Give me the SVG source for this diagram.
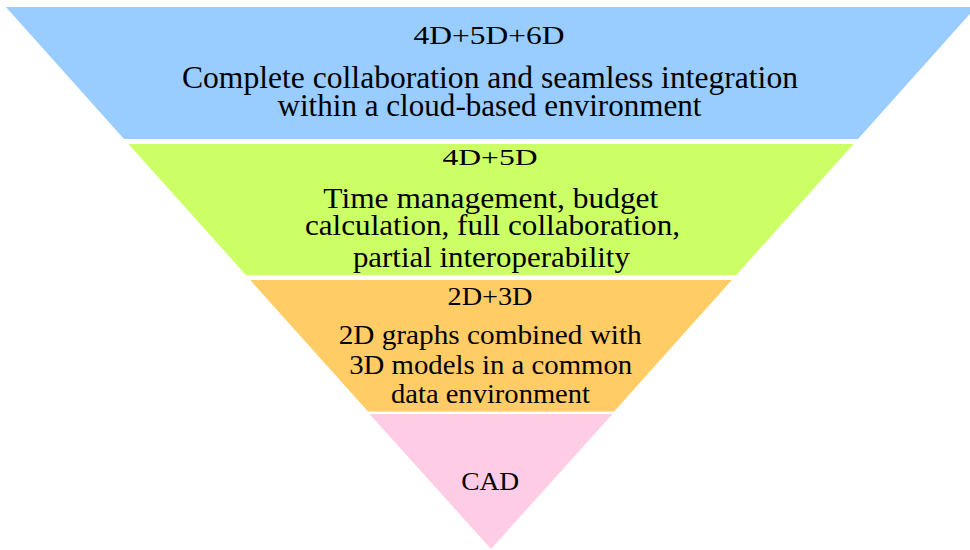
<svg xmlns="http://www.w3.org/2000/svg" width="970" height="550" viewBox="0 0 970 550" xml:space="preserve">
<style>
text{fill:#000;text-anchor:middle}
</style>
<rect x="0" y="0" width="970" height="550" fill="#ffffff"/>
<g id="layer-6d" font-family="'Liberation Serif', 'Times New Roman', serif">
<polygon points="5.9,7 976,7 858,139 124,139" fill="#99CCFF"/>
<text font-size="26" x="489" y="44" textLength="151" lengthAdjust="spacingAndGlyphs">4D+5D+6D</text>
<text font-size="31" x="490" y="88" textLength="616" lengthAdjust="spacingAndGlyphs">Complete collaboration and seamless  integration</text>
<text font-size="31" x="489.5" y="116" textLength="424" lengthAdjust="spacingAndGlyphs">within a cloud-based environment</text>
</g>
<g id="layer-5d" font-family="'Liberation Serif', 'Times New Roman', serif">
<polygon points="128.5,144 853.5,144 736.2,275 245.8,275" fill="#CCFF66"/>
<text font-size="24" x="490" y="165" textLength="95" lengthAdjust="spacingAndGlyphs">4D+5D</text>
<text font-size="30" x="490.8" y="208.3" textLength="335" lengthAdjust="spacingAndGlyphs">Time management,  budget</text>
<text font-size="30" x="492.5" y="235" textLength="375" lengthAdjust="spacingAndGlyphs">calculation, full collaboration,</text>
<text font-size="30" x="491.4" y="267.3" textLength="277" lengthAdjust="spacingAndGlyphs">partial interoperability</text>
</g>
<g id="layer-3d" font-family="'Liberation Serif', 'Times New Roman', serif">
<polygon points="250.2,280 731.8,280 614,411.5 368,411.5" fill="#FFCC66"/>
<text font-size="26" x="490" y="305" textLength="85" lengthAdjust="spacingAndGlyphs">2D+3D</text>
<text font-size="28" x="490.2" y="344.3" textLength="303" lengthAdjust="spacingAndGlyphs">2D graphs  combined  with</text>
<text font-size="28" x="490.7" y="374.3" textLength="283" lengthAdjust="spacingAndGlyphs">3D models  in a common</text>
<text font-size="28" x="490.5" y="402.7" textLength="199" lengthAdjust="spacingAndGlyphs">data  environment</text>
</g>
<g id="layer-cad" font-family="'Liberation Serif', 'Times New Roman', serif">
<polygon points="369.5,414 612.5,414 491,549" fill="#FFCCE6"/>
<text font-size="26" x="490.2" y="490" textLength="58" lengthAdjust="spacingAndGlyphs">CAD</text>
</g>
<g id="connectors"></g>
</svg>
